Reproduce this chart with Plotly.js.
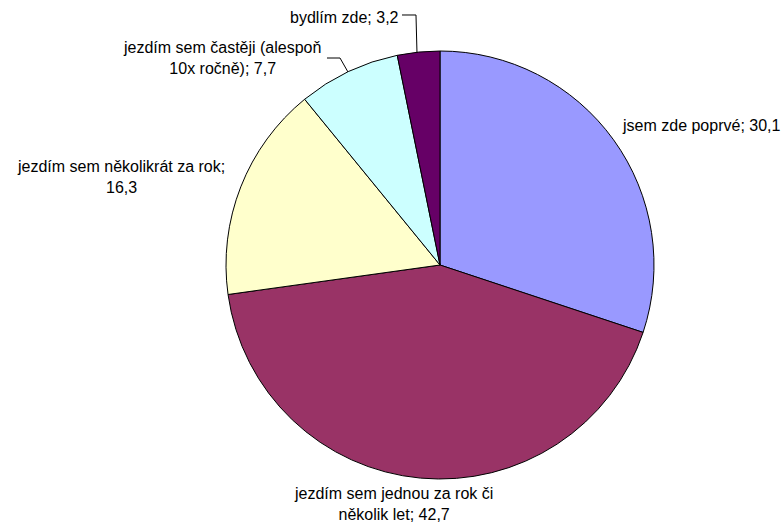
<!DOCTYPE html>
<html>
<head>
<meta charset="utf-8">
<script src="https://cdn.plot.ly/plotly-3.0.1.min.js"></script>
<style>html,body{margin:0;padding:0;background:#fff;}#chart{width:781px;height:523px;}</style>
</head>
<body>
<div id="chart"></div>
<script>
const categories = [
  "jsem zde poprvé",
  "jezdím sem jednou za rok či několik let",
  "jezdím sem několikrát za rok",
  "jezdím sem častěji (alespoň 10x ročně)",
  "bydlím zde"
];
const values = [30.1, 42.7, 16.3, 7.7, 3.2];
const labelTexts = [
  "jsem zde poprvé; 30,1",
  "jezdím sem jednou za rok či<br>několik let; 42,7",
  "jezdím sem několikrát za rok;<br>16,3",
  "jezdím sem častěji (alespoň<br>10x ročně); 7,7",
  "bydlím zde; 3,2"
];
const colors = ["#9999FF", "#993366", "#FFFFCC", "#CCFFFF", "#660066"];

const W = 781, H = 523;
const px = x => x / W;
const py = y => 1 - y / H;

// label placement (pixels): [x, y, xanchor]
const labelPos = [
  [620, 126, "left"],
  [393, 504, "center"],
  [121, 177, "center"],
  [222, 58, "center"],
  [344, 17, "center"]
];

const annotations = labelTexts.map((t, i) => ({
  text: t,
  xref: "paper", yref: "paper",
  x: px(labelPos[i][0]), y: py(labelPos[i][1]),
  xanchor: labelPos[i][2], yanchor: "middle",
  align: "center",
  showarrow: false,
  font: {family: "Liberation Sans, Arial, sans-serif", size: 16, color: "#000"}
}));

function pathPx(pts) {
  return pts.map((p, i) => (i ? "L" : "M") + px(p[0]).toFixed(5) + "," + py(p[1]).toFixed(5)).join(" ");
}

const shapes = [
  {type: "path", xref: "paper", yref: "paper", path: pathPx([[402, 15], [416, 15], [417, 53]]), line: {color: "#000", width: 1}},
  {type: "path", xref: "paper", yref: "paper", path: pathPx([[327, 58], [340, 58], [348, 72]]), line: {color: "#000", width: 1}}
];

const data = [{
  type: "pie",
  labels: categories,
  values: values,
  sort: false,
  direction: "clockwise",
  rotation: 0,
  textinfo: "none",
  hoverinfo: "label+value",
  marker: {colors: colors, line: {color: "#000", width: 1}},
  domain: {x: [226 / W, 654 / W], y: [44 / H, 472 / H]}
}];

const layout = {
  width: W, height: H,
  margin: {l: 0, r: 0, t: 0, b: 0},
  showlegend: false,
  paper_bgcolor: "#fff",
  annotations: annotations,
  shapes: shapes
};

Plotly.newPlot("chart", data, layout, {displayModeBar: false, staticPlot: true});
</script>
</body>
</html>
